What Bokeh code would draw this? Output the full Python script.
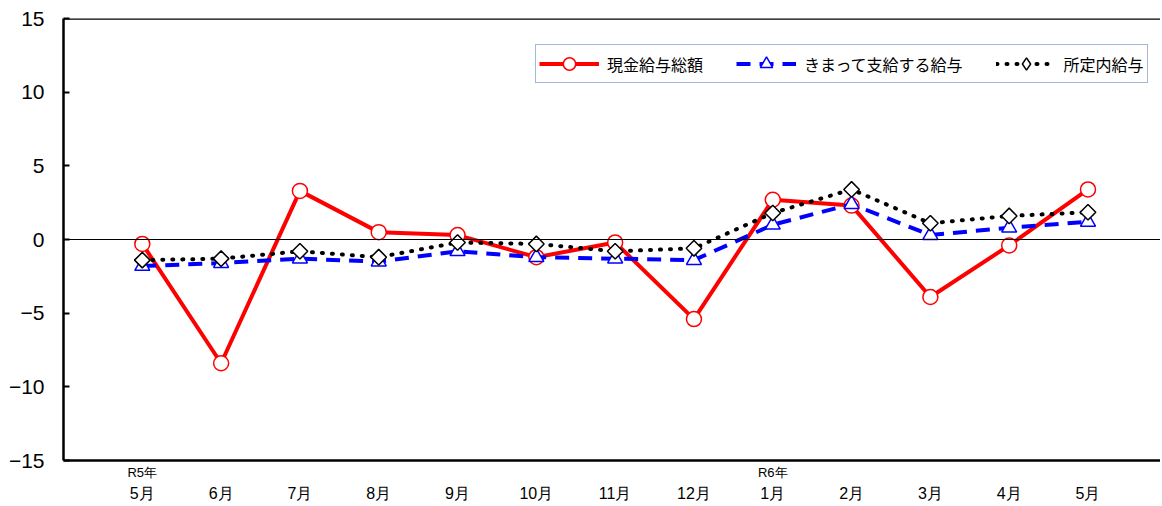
import math
from bokeh.plotting import figure
from bokeh.models import Range1d, FixedTicker, Span, Legend, LegendItem, LinearAxis
from bokeh.embed import file_html
from bokeh.resources import INLINE

# ---- data ----
months = ["5月", "6月", "7月", "8月", "9月", "10月", "11月", "12月", "1月", "2月", "3月", "4月", "5月"]
era_positions = [0, 8]
era_labels = ["R5年", "R6年"]
total_pay = [-0.3, -8.4, 3.3, 0.5, 0.3, -1.2, -0.2, -5.4, 2.7, 2.3, -3.9, -0.4, 3.4]
regular_pay = [-1.8, -1.6, -1.3, -1.5, -0.8, -1.2, -1.3, -1.4, 1.0, 2.4, 0.3, 0.8, 1.2]
scheduled_pay = [-1.4, -1.3, -0.8, -1.2, -0.2, -0.3, -0.8, -0.6, 1.8, 3.4, 1.1, 1.6, 1.85]
series_names = ["現金給与総額", "きまって支給する給与", "所定内給与"]
y_ticks = [-15, -10, -5, 0, 5, 10, 15]
y_tick_labels = ["−15", "−10", "−5", "0", "5", "10", "15"]

x = list(range(len(months)))
JP = "Noto Sans CJK JP"
SANS = "Liberation Sans"

p = figure(width=1160, height=504, output_backend="svg", toolbar_location=None,
           x_range=Range1d(-1, 12.92), y_range=Range1d(-15, 15),
           min_border_left=63, min_border_right=0, min_border_top=18, min_border_bottom=44)
p.outline_line_color = None
p.xgrid.visible = False
p.ygrid.visible = False
p.background_fill_color = "white"
p.border_fill_color = "white"

# y axis
p.yaxis.ticker = FixedTicker(ticks=y_ticks)
p.yaxis.major_label_overrides = {t: l for t, l in zip(y_ticks, y_tick_labels)}
p.yaxis.major_label_text_font = SANS
p.yaxis.major_label_text_font_size = "21px"
p.yaxis.major_label_text_color = "black"
p.yaxis.major_label_standoff = 19
p.yaxis.major_tick_in = 6
p.yaxis.major_tick_out = 0
p.yaxis.major_tick_line_width = 2
p.yaxis.minor_tick_line_color = None
p.yaxis.axis_line_width = 2.5
p.yaxis.axis_line_color = "black"

# x axes: era labels (closest to frame) and month labels
month_axis = p.xaxis[0]
month_axis.ticker = FixedTicker(ticks=x)
month_axis.major_label_overrides = {i: m for i, m in zip(x, months)}
month_axis.major_label_text_font = SANS
month_axis.major_label_text_font_size = "16px"
month_axis.major_label_text_color = "black"
month_axis.major_label_standoff = 2
month_axis.major_tick_in = 0
month_axis.major_tick_out = 0
month_axis.minor_tick_line_color = None
month_axis.axis_line_color = None

era_over = {i: "" for i in x}
for pos, lab in zip(era_positions, era_labels):
    era_over[pos] = lab
era_axis = LinearAxis(ticker=FixedTicker(ticks=x), major_label_overrides=era_over,
                      major_label_text_font=SANS, major_label_text_font_size="13px",
                      major_label_text_color="black", major_label_standoff=4,
                      major_tick_in=0, major_tick_out=0, minor_tick_line_color=None,
                      axis_line_width=2.5, axis_line_color="black")
p.below = [era_axis, month_axis]

# top border and zero line
p.add_layout(Span(location=15, dimension="width", line_color="black", line_width=2.5))
p.add_layout(Span(location=0, dimension="width", line_color="black", line_width=1))

# series
r1 = p.line(x, total_pay, line_color="#ff0000", line_width=4)
m1 = p.scatter(x, total_pay, marker="circle", size=15, fill_color="white",
               line_color="#ff0000", line_width=1.5)
r2 = p.line(x, regular_pay, line_color="#0000ff", line_width=4, line_dash="14 9")
m2 = p.scatter(x, regular_pay, marker="triangle", size=15, fill_color="white",
               line_color="#0000ff", line_width=1.5)
r3 = p.line(x, scheduled_pay, line_color="black", line_width=4, line_dash="1 9",
            line_cap="round")
m3 = p.scatter(x, scheduled_pay, marker="square", angle=math.pi / 4, size=11,
               fill_color="white", line_color="black", line_width=1.5)
# legend-only diamond (hidden on plot; rotated square is drawn above)
m3_leg = p.scatter(x, scheduled_pay, marker="diamond", size=18, fill_color="white",
                   line_color="black", line_width=1.5, visible=False)

legend = Legend(items=[LegendItem(label=series_names[0], renderers=[r1, m1]),
                       LegendItem(label=series_names[1], renderers=[r2, m2]),
                       LegendItem(label=series_names[2], renderers=[r3, m3_leg])],
                orientation="horizontal", location=(472, 377),
                label_text_font=JP, label_text_font_size="16px",
                label_text_color="black", glyph_width=60, glyph_height=31,
                label_standoff=8, spacing=33, padding=3, margin=0,
                border_line_color="#4a6fb5", border_line_width=1,
                background_fill_color="white", background_fill_alpha=1)
p.add_layout(legend)

open("out.html", "w").write(file_html(p, INLINE))
